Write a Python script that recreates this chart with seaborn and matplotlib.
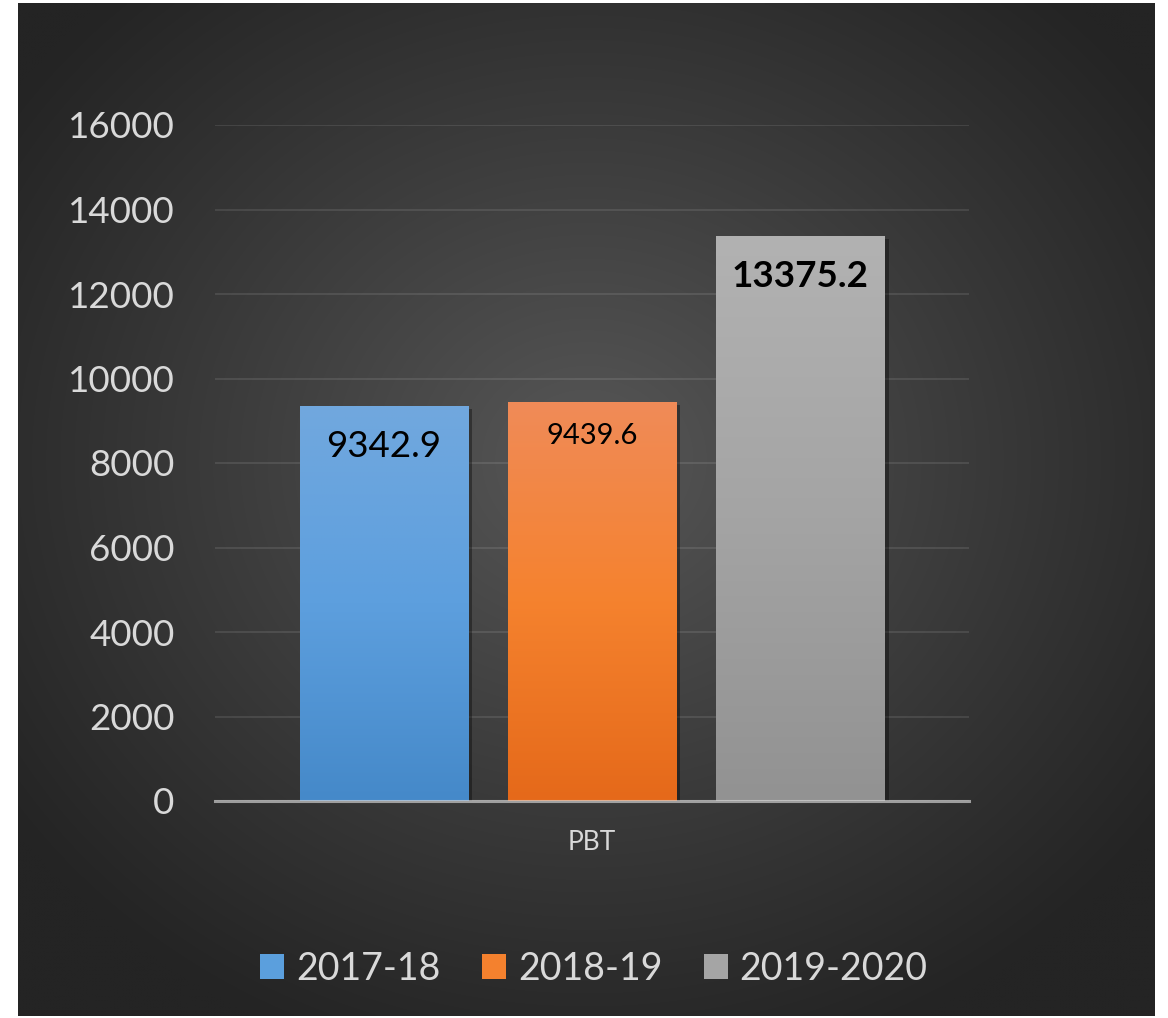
import numpy as np
import pandas as pd
import matplotlib
matplotlib.use("Agg")
import matplotlib.pyplot as plt
import seaborn as sns
from matplotlib.colors import LinearSegmentedColormap
from matplotlib.patches import Patch
import matplotlib.patheffects as pe

# ---- data ----
categories = ["PBT"]
years = ["2017-18", "2018-19", "2019-2020"]
values = [9342.9, 9439.6, 13375.2]
label_texts = ["9342.9", "9439.6", "13375.2"]
yticks = [0, 2000, 4000, 6000, 8000, 10000, 12000, 14000, 16000]

df = pd.DataFrame({"metric": categories * len(years), "year": years, "value": values})

# ---- style ----
plt.rcParams["font.family"] = ["Lato", "DejaVu Sans"]
mid_colors = ["#5b9fdd", "#f4812e", "#a5a5a5"]
grad_colors = [("#4589c9", "#5d9fde", "#71a8de"),
               ("#e5691a", "#f5822e", "#f08b58"),
               ("#929292", "#a4a4a4", "#b2b2b2")]
label_sizes = [26.5, 21, 26.5]
label_weights = ["normal", "normal", "bold"]
label_offsets = [-40, -34, -41]

W, H = 1168, 1018
fig = plt.figure(figsize=(W / 100, H / 100), dpi=100, facecolor="white")

# background panel with radial gradient
bg = fig.add_axes([18 / W, 1 - 1016 / H, (1155 - 18) / W, (1016 - 3) / H])
bg.set_axis_off()
ny, nx = 400, 450
yy, xx = np.mgrid[0:ny, 0:nx]
cx, cy = 0.5 * nx, 0.45 * ny
r = np.sqrt(((xx - cx) / (0.62 * nx)) ** 2 + ((yy - cy) / (0.62 * ny)) ** 2)
r = np.clip(r, 0, 1)
c_in, c_out = 0x57 / 255, 0x24 / 255
val = c_out + (c_in - c_out) * (1 - r) ** 1.05
img = np.dstack([val, val, val])
bg.imshow(img, aspect="auto", extent=[0, 1, 0, 1], origin="upper", interpolation="bilinear")
bg.set_xlim(0, 1)
bg.set_ylim(0, 1)

# main axes
ax = fig.add_axes([215 / W, 1 - 801 / H, 754 / W, 676 / H])
ax.patch.set_alpha(0)

sns.barplot(data=df, x="metric", y="value", hue="year", hue_order=years,
            palette=mid_colors, width=0.828, gap=0.19, ax=ax, legend=False,
            saturation=1, errorbar=None, zorder=3)

ax.set_ylim(0, 16000)
ax.set_xlim(-0.5, 0.5)

# gradients + shadows on bars
bars = [p for p in ax.patches]
for p, (cb, cm, ct) in zip(bars, grad_colors):
    x0, y0 = p.get_x(), p.get_y()
    w, h = p.get_width(), p.get_height()
    p.set_path_effects([pe.SimplePatchShadow(offset=(3, -2), alpha=0.35, shadow_rgbFace="black"),
                        pe.Normal()])
    cmap = LinearSegmentedColormap.from_list("g", [cb, cm, ct])
    grad = np.linspace(0, 1, 256).reshape(-1, 1)
    im = ax.imshow(grad, cmap=cmap, aspect="auto", origin="lower",
                   extent=[x0, x0 + w, y0, y0 + h], zorder=4, interpolation="bilinear")
    im.set_clip_path(p)

ax.set_ylim(0, 16000)
ax.set_xlim(-0.5, 0.5)

# data labels
for p, txt, fs, fw, off in zip(bars, label_texts, label_sizes, label_weights, label_offsets):
    xc = p.get_x() + p.get_width() / 2
    ax.annotate(txt, xy=(xc, p.get_height()), xytext=(0, off), textcoords="offset pixels",
                ha="center", va="center", fontsize=fs, fontweight=fw, color="#000000", zorder=6)

# grid & axes
ax.set_yticks(yticks)
ax.set_yticklabels([str(t) for t in yticks])
ax.yaxis.grid(True, color="white", alpha=0.13, lw=1.1, zorder=0)
ax.set_axisbelow(True)
for s in ["left", "right", "top"]:
    ax.spines[s].set_visible(False)
ax.spines["bottom"].set_color("#d9d9d9")
ax.spines["bottom"].set_alpha(0.65)
ax.spines["bottom"].set_linewidth(2.2)
ax.spines["bottom"].set_zorder(5)
ax.tick_params(axis="y", length=0, pad=29, labelsize=26.5, labelcolor="#d9d9d9")
ax.tick_params(axis="x", length=0, pad=21, labelsize=19, labelcolor="#d9d9d9")
ax.set_xlabel("")
ax.set_ylabel("")

# legend
handles = [Patch(facecolor=c, edgecolor="none") for c in mid_colors]
fig.legend(handles, years, loc="center", bbox_to_anchor=(594 / W, 1 - 969 / H),
           ncol=3, frameon=False, fontsize=27, labelcolor="#d9d9d9",
           handlelength=0.64, handleheight=0.64, handletextpad=0.32,
           columnspacing=1.1, borderpad=0, borderaxespad=0)

fig.savefig("out.png", dpi=100, facecolor="white")
